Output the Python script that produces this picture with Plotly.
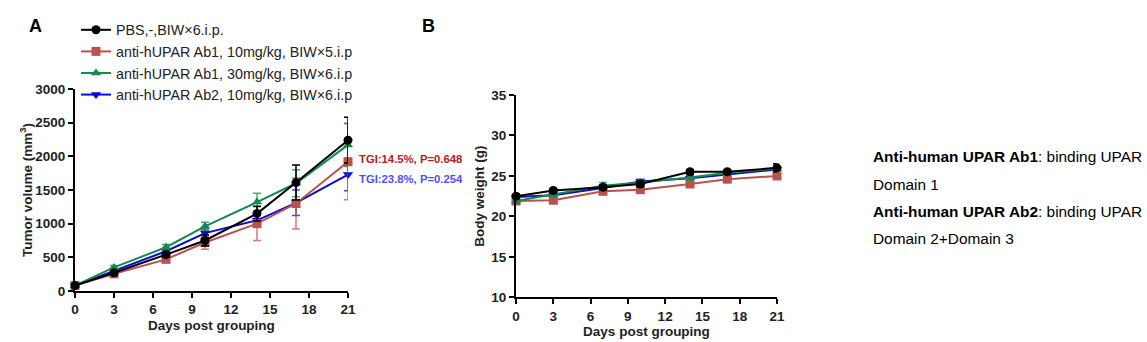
import plotly.graph_objects as go

days = [0, 3, 7, 10, 14, 17, 21]

# Panel A: tumor volume (mm^3)
pbs_tv = [80, 270, 540, 750, 1150, 1610, 2240]
pbs_tv_err = [20, 30, 40, 80, 110, 260, 340]
ab1_10_tv = [80, 255, 470, 720, 1000, 1300, 1920]
ab1_10_tv_err = [20, 30, 40, 100, 250, 380, 565]
ab1_30_tv = [80, 350, 650, 960, 1320, 1600, 2170]
ab1_30_tv_err = [20, 30, 40, 60, 130, 200, 320]
ab2_tv = [80, 300, 590, 860, 1050, 1310, 1730]
ab2_tv_err = [20, 30, 40, 60, 100, 190, 240]

# Panel B: body weight (g)
pbs_bw = [22.5, 23.2, 23.6, 24.0, 25.5, 25.5, 26.0]
pbs_bw_err = [0.3, 0.2, 0.3, 0.3, 0.3, 0.3, 0.5]
ab1_10_bw = [21.9, 22.0, 23.1, 23.3, 24.0, 24.6, 25.0]
ab1_10_bw_err = [0.3, 0.3, 0.3, 0.3, 0.3, 0.3, 0.3]
ab1_30_bw = [21.9, 22.7, 23.8, 24.2, 24.8, 25.4, 25.9]
ab1_30_bw_err = [0.3, 0.3, 0.4, 0.3, 0.3, 0.3, 0.4]
ab2_bw = [22.4, 22.6, 23.5, 24.3, 24.7, 25.2, 25.8]
ab2_bw_err = [0.4, 0.3, 0.3, 0.3, 0.3, 0.3, 0.3]

names = [
    "PBS,-,BIW×6.i.p.",
    "anti-hUPAR Ab1, 10mg/kg, BIW×5.i.p",
    "anti-hUPAR Ab1, 30mg/kg, BIW×6.i.p",
    "anti-hUPAR Ab2, 10mg/kg, BIW×6.i.p",
]
colors = ["#000000", "#B9524E", "#168A4C", "#0A0AD0"]
err_colors = ["#000000", "rgba(185,82,78,0.75)", "rgba(22,138,76,0.75)", "rgba(10,10,208,0.75)"]
symbols = ["circle", "square", "triangle-up", "triangle-down"]

tv = [(pbs_tv, pbs_tv_err), (ab1_10_tv, ab1_10_tv_err), (ab1_30_tv, ab1_30_tv_err), (ab2_tv, ab2_tv_err)]
bw = [(pbs_bw, pbs_bw_err), (ab1_10_bw, ab1_10_bw_err), (ab1_30_bw, ab1_30_bw_err), (ab2_bw, ab2_bw_err)]

FONT = "Arial, Liberation Sans, sans-serif"
fig = go.Figure()

order = [3, 1, 2, 0]  # draw black on top
for i in order:
    y, e = tv[i]
    fig.add_trace(go.Scatter(
        x=days, y=y, mode="lines+markers", name=names[i],
        line=dict(color=colors[i], width=2),
        marker=dict(symbol=symbols[i], size=9, color=colors[i]),
        error_y=dict(type="data", array=e, color=err_colors[i], thickness=1.5, width=4),
        xaxis="x", yaxis="y", cliponaxis=False, legendrank=i, showlegend=True,
    ))
for i in order:
    y, e = bw[i]
    fig.add_trace(go.Scatter(
        x=days, y=y, mode="lines+markers", name=names[i],
        line=dict(color=colors[i], width=2),
        marker=dict(symbol=symbols[i], size=9, color=colors[i]),
        error_y=dict(type="data", array=e, color=err_colors[i], thickness=1.5, width=4),
        xaxis="x2", yaxis="y2", cliponaxis=False, showlegend=False,
    ))

axis_common = dict(
    showline=True, linecolor="black", linewidth=2, ticks="outside", ticklen=5,
    tickwidth=2, tickcolor="black", showgrid=False, zeroline=False, automargin=False,
    tickfont=dict(family=FONT, size=13.5, color="#222", weight="bold"),
)

fig.update_layout(
    width=1147, height=342, margin=dict(l=0, r=0, t=0, b=0, autoexpand=False),
    plot_bgcolor="white", paper_bgcolor="white",
    font=dict(family=FONT, color="#222"),
    xaxis=dict(domain=[75/1147, 348/1147], range=[0, 21], tickvals=[0, 3, 6, 9, 12, 15, 18, 21],
               title=dict(text="Days post grouping", font=dict(size=13.5, weight="bold", family=FONT), standoff=4),
               anchor="y", **axis_common),
    yaxis=dict(domain=[51/342, 253/342], range=[0, 3000], tickvals=[0, 500, 1000, 1500, 2000, 2500, 3000],
               title=dict(text="Tumor volume (mm<sup>3</sup>)", font=dict(size=13.5, weight="bold", family=FONT), standoff=0),
               anchor="x", **axis_common),
    xaxis2=dict(domain=[516/1147, 777/1147], range=[0, 21], tickvals=[0, 3, 6, 9, 12, 15, 18, 21],
                title=dict(text="Days post grouping", font=dict(size=13.5, weight="bold", family=FONT), standoff=4),
                anchor="y2", **axis_common),
    yaxis2=dict(domain=[44.7/342, 247/342], range=[10, 35], tickvals=[10, 15, 20, 25, 30, 35],
                title=dict(text="Body weight (g)", font=dict(size=13.5, weight="bold", family=FONT), standoff=4),
                anchor="x2", **axis_common),
    legend=dict(x=76/1147, y=1 - 14/342, xanchor="left", yanchor="top",
                font=dict(family=FONT, size=14.3, color="#222"), bgcolor="rgba(0,0,0,0)",
                tracegroupgap=0, itemwidth=30),
    showlegend=True,
)

annotations = [
    dict(text="<b>A</b>", x=27/1147, y=1 - 26/342, xref="paper", yref="paper", xanchor="left", yanchor="middle",
         showarrow=False, font=dict(size=18, color="black", family=FONT)),
    dict(text="<b>B</b>", x=420/1147, y=1 - 26/342, xref="paper", yref="paper", xanchor="left", yanchor="middle",
         showarrow=False, font=dict(size=18, color="black", family=FONT)),
    dict(text="<b>TGI:14.5%, P=0.648</b>", x=357/1147, y=1 - 159/342, xref="paper", yref="paper",
         xanchor="left", yanchor="middle", showarrow=False, font=dict(size=11.3, color="#B22020", family=FONT)),
    dict(text="<b>TGI:23.8%, P=0.254</b>", x=357/1147, y=1 - 179/342, xref="paper", yref="paper",
         xanchor="left", yanchor="middle", showarrow=False, font=dict(size=11.3, color="#5050F5", family=FONT)),
]
right_lines = [
    ("<b>Anti-human UPAR Ab1</b>: binding UPAR", 157),
    ("Domain 1", 184),
    ("<b>Anti-human UPAR Ab2</b>: binding UPAR", 211),
    ("Domain 2+Domain 3", 238),
]
for txt, yy in right_lines:
    annotations.append(dict(text=txt, x=871/1147, y=1 - yy/342, xref="paper", yref="paper",
                            xanchor="left", yanchor="middle", showarrow=False,
                            font=dict(size=15.4, color="black", family=FONT)))
fig.update_layout(annotations=annotations)

fig.write_html("out.html")
